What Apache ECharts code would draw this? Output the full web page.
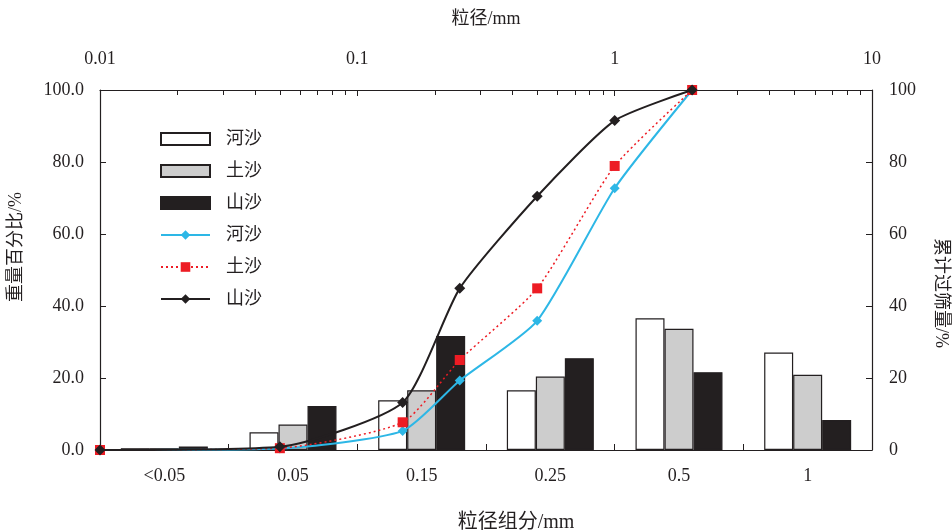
<!DOCTYPE html>
<html>
<head>
<meta charset="utf-8">
<script src="https://cdn.jsdelivr.net/npm/echarts@6/dist/echarts.min.js"></script>
<style>html,body{margin:0;padding:0;background:#fff}#c{width:952px;height:531px}</style>
</head>
<body>
<div id="c"></div>
<script>
// Bottom category axis (粒径组分/mm)
var categories = ['<0.05', '0.05', '0.15', '0.25', '0.5', '1'];
// Bar series: 重量百分比/%
var riverBar = [0.5, 4.9, 13.8, 16.6, 36.6, 27.1];
var earthBar = [0.5, 7.1, 16.6, 20.4, 33.7, 20.9];
var mountainBar = [1.0, 12.2, 31.7, 25.5, 21.6, 8.3];
// Line series: 累计过筛量/% vs 粒径/mm (top log axis)
var sieveSizes = [0.01, 0.05, 0.15, 0.25, 0.5, 1, 2];
var riverCum = [0, 0.4, 5.3, 19.3, 35.9, 72.7, 100];
var earthCum = [0, 0.5, 7.7, 25.0, 44.9, 78.9, 100];
var mountainCum = [0, 0.9, 13.2, 44.9, 70.5, 91.5, 100];

function pairs(xs, ys) { return xs.map(function (x, i) { return [x, ys[i]]; }); }

var INK = '#231F20';
var FONT = "'Liberation Serif', 'Noto Sans CJK SC', serif";
var chart = echarts.init(document.getElementById('c'), null, { renderer: 'canvas' });
var axisLine = { show: true, onZero: false, lineStyle: { color: INK, width: 1.2 } };
var label = { color: INK, fontFamily: FONT, fontSize: 18 };
var nameStyle = { color: INK, fontFamily: FONT, fontSize: 18 };

chart.setOption({
  animation: false,
  backgroundColor: '#fff',
  grid: { left: 100, right: 80, top: 90, bottom: 81, containLabel: false, outerBoundsMode: 'none' },
  legend: {
    orient: 'vertical', left: 155, top: 125,
    itemWidth: 49, itemHeight: 12, itemGap: 14,
    textStyle: { color: INK, fontFamily: FONT, fontSize: 18, padding: [0, 0, 0, 11] },
    formatter: function (n) { return n.trim(); },
    data: [
      { name: '河沙', icon: 'rect' }, { name: '土沙', icon: 'rect' }, { name: '山沙', icon: 'rect' },
      '河沙 ', '土沙 ', '山沙 '
    ]
  },
  xAxis: [
    {
      type: 'category', position: 'bottom', data: categories, boundaryGap: true,
      axisLine: axisLine,
      axisTick: { show: true, inside: true, length: 6, interval: 0, alignWithLabel: false, lineStyle: { color: INK, width: 1 } },
      axisLabel: Object.assign({ margin: 17, interval: 0 }, label),
      name: '粒径组分/mm', nameLocation: 'middle', nameGap: 63,
      nameTextStyle: { color: INK, fontFamily: FONT, fontSize: 20, padding: [0, 0, 0, 60] },
      splitLine: { show: false }
    },
    {
      type: 'log', logBase: 10, position: 'top', min: 0.01, max: 10,
      axisLine: axisLine,
      axisTick: { show: true, inside: true, length: 6, lineStyle: { color: INK, width: 1 } },
      minorTick: { show: true, splitNumber: 9, length: 5, lineStyle: { color: INK, width: 1 } },
      axisLabel: Object.assign({ margin: 22, formatter: function (v) { return String(v); } }, label),
      name: '粒径/mm', nameLocation: 'middle', nameGap: 62, nameTextStyle: nameStyle,
      splitLine: { show: false }, minorSplitLine: { show: false }
    }
  ],
  yAxis: [
    {
      type: 'value', position: 'left', min: 0, max: 100, interval: 20,
      axisLine: axisLine,
      axisTick: { show: true, inside: true, length: 6, lineStyle: { color: INK, width: 1 } },
      axisLabel: Object.assign({ margin: 16, formatter: function (v) { return v.toFixed(1); } }, label),
      name: '重量百分比/%', nameLocation: 'middle', nameGap: 75, nameRotate: 90,
      nameTextStyle: Object.assign({ padding: [0, 0, 0, 46] }, nameStyle),
      splitLine: { show: false }
    },
    {
      type: 'value', position: 'right', min: 0, max: 100, interval: 20,
      axisLine: axisLine,
      axisTick: { show: true, inside: true, length: 6, lineStyle: { color: INK, width: 1 } },
      axisLabel: Object.assign({ margin: 17 }, label),
      name: '累计过筛量/%', nameLocation: 'middle', nameGap: 60, nameRotate: -90,
      nameTextStyle: Object.assign({ padding: [0, 0, 0, 46] }, nameStyle),
      splitLine: { show: false }
    }
  ],
  series: [
    { name: '河沙', type: 'bar', xAxisIndex: 0, yAxisIndex: 0, data: riverBar, barWidth: 29, barGap: '0%',
      itemStyle: { color: '#ffffff', borderColor: INK, borderWidth: 1.2 } },
    { name: '土沙', type: 'bar', xAxisIndex: 0, yAxisIndex: 0, data: earthBar, barWidth: 29, barGap: '0%',
      itemStyle: { color: '#CDCDCD', borderColor: INK, borderWidth: 1.2 } },
    { name: '山沙', type: 'bar', xAxisIndex: 0, yAxisIndex: 0, data: mountainBar, barWidth: 29, barGap: '0%',
      itemStyle: { color: INK, borderColor: INK, borderWidth: 1.2 } },
    { name: '河沙 ', type: 'line', xAxisIndex: 1, yAxisIndex: 1, data: pairs(sieveSizes, riverCum),
      smooth: 0.2, symbol: 'diamond', symbolSize: 10,
      lineStyle: { color: '#2DB7E6', width: 2 }, itemStyle: { color: '#2DB7E6' }, z: 5 },
    { name: '土沙 ', type: 'line', xAxisIndex: 1, yAxisIndex: 1, data: pairs(sieveSizes, earthCum),
      smooth: 0.2, symbol: 'rect', symbolSize: 10,
      lineStyle: { color: '#ED1C24', width: 1.5, type: [2, 3] }, itemStyle: { color: '#ED1C24' }, z: 6 },
    { name: '山沙 ', type: 'line', xAxisIndex: 1, yAxisIndex: 1, data: pairs(sieveSizes, mountainCum),
      smooth: 0.2, symbol: 'diamond', symbolSize: 11,
      lineStyle: { color: INK, width: 2 }, itemStyle: { color: INK }, z: 7 }
  ]
});
</script>
</body>
</html>
